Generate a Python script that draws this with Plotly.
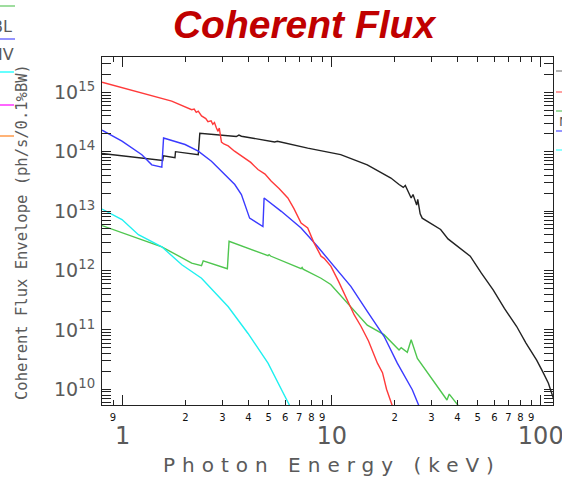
import plotly.graph_objects as go

# ---------------- data ----------------
red_E = [0.797, 0.993, 1.379, 1.717, 2.14, 2.20, 2.25, 2.30, 2.385, 2.50, 2.56, 2.65, 2.70, 2.75, 2.81, 2.86, 2.90, 2.97, 3.05, 3.20, 3.43, 3.80, 4.10, 4.44, 4.80, 5.13, 5.60, 6.17, 6.60, 7.14, 7.68, 8.20, 8.89, 9.20, 9.92, 10.8, 11.9, 12.8, 13.8, 15.0, 16.55, 17.5, 18.3, 19.6]
red_F = [1.48e15, 1.20e15, 8.7e14, 7.1e14, 5.1e14, 5.2e14, 4.6e14, 4.8e14, 4.0e14, 3.6e14, 3.2e14, 3.3e14, 2.9e14, 3.1e14, 2.5e14, 2.2e14, 2.5e14, 1.45e14, 1.35e14, 1.25e14, 1.02e14, 8.0e13, 6.6e13, 5.0e13, 4.2e13, 3.2e13, 2.4e13, 1.66e13, 1.1e13, 6.3e12, 5.2e12, 3.0e12, 1.74e12, 1.6e12, 1.17e12, 6.5e11, 3.2e11, 1.8e11, 1.15e11, 6.5e10, 2.75e10, 1.9e10, 1.0e10, 5.0e9]

blue_E = [0.797, 0.993, 1.236, 1.379, 1.54, 1.57, 1.99, 2.30, 2.66, 3.08, 3.44, 3.70, 4.05, 4.69, 4.75, 5.74, 7.14, 8.58, 10.3, 12.35, 14.8, 17.8, 20.6, 24.3, 26.3]
blue_F = [2.3e14, 1.5e14, 8.9e13, 6.0e13, 5.5e13, 1.7e14, 1.32e14, 1.02e14, 6.9e13, 4.1e13, 2.8e13, 1.9e13, 7.6e12, 5.5e12, 1.66e13, 9.9e12, 5.2e12, 2.5e12, 1.17e12, 5.4e11, 2.05e11, 7.8e10, 2.75e10, 9.8e9, 5.0e9]

black_E = [0.797, 1.555, 1.567, 1.78, 1.79, 2.30, 2.34, 3.50, 3.60, 3.70, 5.33, 5.50, 7.68, 11.04, 14.8, 19.2, 21.0, 22.0, 22.5, 24.0, 24.5, 25.5, 25.8, 26.5, 27.1, 30.0, 33.2, 36.0, 40.5, 46.0, 52.0, 59.2, 67.0, 76.6, 85.0, 95.6, 102.0, 108.8, 115.0]
black_F = [9.3e13, 7.1e13, 8.5e13, 7.9e13, 1.0e14, 8.9e13, 2.04e14, 1.80e14, 1.90e14, 1.82e14, 1.46e14, 1.50e14, 1.15e14, 8.9e13, 6.0e13, 3.6e13, 2.8e13, 2.5e13, 2.7e13, 1.66e13, 1.9e13, 1.26e13, 1.58e13, 9.0e12, 7.6e12, 6.0e12, 4.9e12, 3.4e12, 2.5e12, 1.74e12, 9.0e11, 4.7e11, 2.3e11, 1.15e11, 6.0e10, 3.1e10, 2.0e10, 1.26e10, 7.0e9]

green_E = [0.797, 1.54, 2.14, 2.385, 2.43, 3.17, 3.23, 4.96, 5.02, 5.10, 7.14, 7.22, 7.30, 8.89, 9.9, 14.8, 17.8, 21.0, 21.5, 23.0, 24.0, 25.7, 35.6, 36.5, 40.5]
green_F = [5.7e12, 2.5e12, 1.33e12, 1.2e12, 1.45e12, 1.07e12, 3.1e12, 1.78e12, 1.85e12, 1.75e12, 1.07e12, 1.12e12, 1.05e12, 7.4e11, 5.8e11, 1.2e11, 8.3e10, 4.6e10, 5.0e10, 4.2e10, 6.8e10, 3.3e10, 6.6e9, 8.3e9, 5.2e9]

cyan_E = [0.797, 0.993, 1.19, 1.54, 1.92, 2.385, 3.20, 3.98, 4.96, 6.28, 6.45]
cyan_F = [1.08e13, 7.2e12, 4.0e12, 2.5e12, 1.25e12, 7.4e11, 2.45e11, 8.7e10, 2.75e10, 5.4e9, 4.0e9]

x_major_vals = [1, 10, 100]
x_major_text = ["1", "10", "100"]
x_minor_vals = [0.9, 2, 3, 4, 5, 6, 7, 8, 9, 20, 30, 40, 50, 60, 70, 80, 90]
x_minor_text = ["9", "2", "3", "4", "5", "6", "7", "8", "9", "2", "3", "4", "5", "6", "7", "8", "9"]
y_major_vals = [1e10, 1e11, 1e12, 1e13, 1e14, 1e15]
y_major_text = ["10<sup>10</sup>", "10<sup>11</sup>", "10<sup>12</sup>", "10<sup>13</sup>", "10<sup>14</sup>", "10<sup>15</sup>"]
y_minor_vals = [m * 10 ** p for p in range(9, 16) for m in range(2, 10)]

# ---------------- layout geometry ----------------
W, H = 562, 479
L, R, T, B = 102, 9, 57, 74
PW, PH = W - L - R, H - T - B


def px(xp):
    return (xp - L) / PW


def py(yp):
    return (H - B - yp) / PH


GRAY = "#5a5a5a"
AX = "#222222"

fig = go.Figure()
series = [
    (black_E, black_F, "#222222"),
    (green_E, green_F, "#4fc64f"),
    (cyan_E, cyan_F, "#1ff0f0"),
    (blue_E, blue_F, "#3a3aff"),
    (red_E, red_F, "#ff3a3a"),
]
for xs, ys, c in series:
    fig.add_trace(go.Scatter(x=xs, y=ys, mode="lines", line=dict(color=c, width=1.4),
                             showlegend=False, hoverinfo="skip"))

# invisible trace to carry the minor-label axis
fig.add_trace(go.Scatter(x=[1], y=[1e12], xaxis="x2", mode="markers",
                         marker=dict(opacity=0), showlegend=False, hoverinfo="skip"))

xr = [-0.0986, 2.0586]
yr = [9.735, 15.594]

fig.update_layout(
    template="none",
    width=W, height=H,
    margin=dict(l=L, r=R, t=T, b=B, autoexpand=False),
    paper_bgcolor="white", plot_bgcolor="white",
    xaxis=dict(type="log", range=xr, tickmode="array", tickvals=x_major_vals, ticktext=x_major_text,
               ticks="inside", ticklen=10, tickwidth=1, tickcolor=AX, mirror="allticks",
               showline=True, linecolor=AX, linewidth=1.2, showgrid=False, zeroline=False,
               automargin=False, ticklabeloverflow="allow",
               tickfont=dict(family="DejaVu Sans", size=24, color=GRAY), ticklabelstandoff=9),
    xaxis2=dict(type="log", range=xr, overlaying="x", anchor="y", side="bottom",
                tickmode="array", tickvals=x_minor_vals, ticktext=x_minor_text,
                ticks="inside", ticklen=5, tickwidth=1, tickcolor=AX, mirror="allticks",
                showline=False, showgrid=False, zeroline=False, automargin=False,
                tickfont=dict(family="DejaVu Sans", size=10, color="#111111"), ticklabelstandoff=5),
    yaxis=dict(type="log", range=yr, tickmode="array", tickvals=y_major_vals, ticktext=y_major_text,
               ticks="inside", ticklen=9, tickwidth=1, tickcolor=AX, mirror="allticks",
               showline=True, linecolor=AX, linewidth=1.2, showgrid=False, zeroline=False,
               automargin=False,
               tickfont=dict(family="DejaVu Sans", size=19, color=GRAY), ticklabelstandoff=2,
               minor=dict(tickmode="array", tickvals=y_minor_vals, ticks="inside", ticklen=4,
                          tickcolor=AX, showgrid=False)),
    title=dict(text="<b><i>Coherent Flux</i></b>", xref="container", x=304 / W, xanchor="center",
               yref="container", y=1 - 24 / H, yanchor="middle", automargin=False,
               font=dict(family="Liberation Sans", size=39, color="#c00000")),
)

ann = [
    dict(text='<span style="letter-spacing:7px">Photon Energy (keV)</span>',
         x=px(332), y=py(465), xref="paper", yref="paper",
         showarrow=False, font=dict(family="DejaVu Sans", size=20, color=GRAY),
         xanchor="center", yanchor="middle"),
    dict(text="Coherent Flux Envelope (ph/s/0.1%BW)", x=px(22), y=py(232), xref="paper", yref="paper",
         showarrow=False, textangle=-90, font=dict(family="DejaVu Sans Mono", size=15.5, color=GRAY),
         xanchor="center", yanchor="middle"),
    dict(text="BL", x=px(14), y=py(26), xref="paper", yref="paper", showarrow=False,
         font=dict(family="DejaVu Sans", size=16, color=GRAY), xanchor="right", yanchor="middle"),
    dict(text="IV", x=px(16), y=py(55), xref="paper", yref="paper", showarrow=False,
         font=dict(family="DejaVu Sans", size=16, color=GRAY), xanchor="right", yanchor="middle"),
    dict(text="N", x=px(557), y=py(121), xref="paper", yref="paper", showarrow=False,
         font=dict(family="DejaVu Sans", size=13, color=GRAY), xanchor="left", yanchor="middle"),
]
fig.update_layout(annotations=ann)

legend_bits = [
    (0, 15, 6, "#7fd27f"), (0, 15, 39, "#6f6fff"), (0, 14, 72, "#33ffff"),
    (0, 14, 105, "#ff33ff"), (0, 14, 136, "#ff9a4a"),
    (556, 562, 71, "#9a9a9a"), (556, 562, 92, "#ff8080"), (556, 562, 111, "#80d080"),
    (556, 562, 131, "#7070ff"), (556, 562, 150, "#66ffff"),
]
shapes = []
for x0, x1, yy, c in legend_bits:
    shapes.append(dict(type="line", xref="paper", yref="paper", x0=px(x0), x1=px(x1),
                       y0=py(yy), y1=py(yy), line=dict(color=c, width=1.5)))
fig.update_layout(shapes=shapes)

fig.write_html("out.html", config={"displayModeBar": False},
               post_script="document.body.style.margin='0';")
